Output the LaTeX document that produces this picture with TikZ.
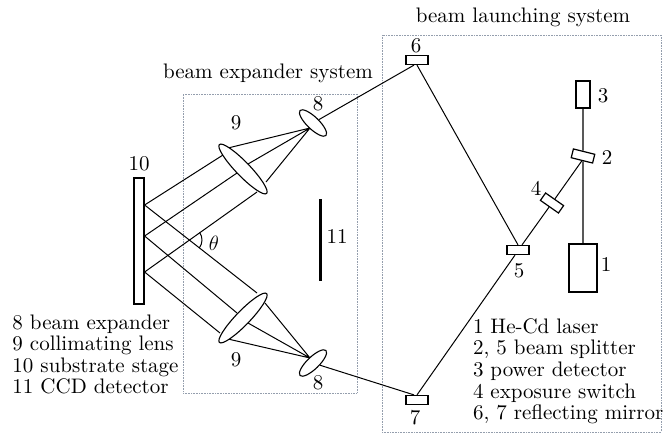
\documentclass[tikz,border=0pt]{standalone}
\usepackage{fontspec}
\setmainfont{lmroman10-regular.otf}
\usepackage{tikz}
\usetikzlibrary{positioning,calc,shapes.geometric}
\definecolor{framegray}{rgb}{0.58,0.62,0.68}

\begin{document}
\begin{tikzpicture}[x=1pt, y=-1pt, line width=1pt,
  every node/.append style={font=\fontsize{21}{21.6}\selectfont, inner sep=0pt},
  mirrorbox/.style={draw, fill=white, line width=1.2pt, minimum width=22pt, minimum height=9pt},
  devbox/.style={draw, fill=white, line width=1.2pt},
  lensbig/.style={draw, ellipse, fill=white, line width=1.1pt, minimum width=68pt, minimum height=14pt},
  lenssmall/.style={draw, ellipse, fill=white, line width=1.1pt, minimum width=36pt, minimum height=12pt},
  framebox/.style={draw=framegray, densely dotted, line width=0.6pt},
  legend/.style={align=left, anchor=north west},
]
\useasboundingbox (0,0) rectangle (663,433);
% frames
\node[framebox, minimum width=174pt, minimum height=299pt] (expander) at (270,243.5) {};
\node[framebox, minimum width=279pt, minimum height=397pt] (launching) at (521.5,233.5) {};
\node (expandertitle) at (268,73) {beam expander system};
\node (launchingtitle) at (523,17) {beam launching system};
% laser path
\node[devbox, minimum width=28pt, minimum height=48pt] (laser) at (583,268) {};
\node[devbox, minimum width=14pt, minimum height=27pt] (detector) at (583,94.5) {};
\node[mirrorbox, rotate=-14] (split2) at (583,156) {};
\node[mirrorbox, rotate=-35] (switch) at (552,203) {};
\node[mirrorbox] (split5) at (518,250) {};
\node[mirrorbox] (mirror6) at (417,60) {};
\node[mirrorbox] (mirror7) at (417,400) {};
\draw[line width=1.3pt] (laser.north) -- (split2);
\draw[line width=1.3pt] (split2) -- (detector.south);
\draw (split2.south) -- (switch);
\draw (switch) -- ([xshift=4pt]split5.north);
\draw (mirror6.south) -- (split5.north);
\draw ([xshift=-3pt]split5.south) -- (mirror7.north);
% substrate and lens points
\node[devbox, minimum width=10pt, minimum height=126pt] (stage) at (139,241) {};
\coordinate (sa) at (stage.east |- 0,205);
\coordinate (sb) at (stage.east |- 0,236);
\coordinate (sc) at (stage.east |- 0,272);
\coordinate (fa) at (310,128);
\coordinate (fb) at (310,358);
\draw (sa) -- (223,155) (sb) -- (237,173) (sc) -- (257,192);
\draw (sa) -- (257,293) (sb) -- (237,313) (sc) -- (220,333);
\draw (228,148) -- (fa) (248,164) -- (fa) (266,182) -- (fa);
\draw (265,303) -- (fb) (248,323) -- (fb) (228,339) -- (fb);
\node[lensbig, rotate=-46] (lens9a) at (243,169) {};
\node[lensbig, rotate=46] (lens9b) at (243,318) {};
\node[lenssmall, rotate=-44] (lens8a) at (313,123) {};
\node[lenssmall, rotate=44] (lens8b) at (313,363) {};
\draw (lens8a) -- ([xshift=-3pt]mirror6.south);
\draw (lens8b) -- ([xshift=-3pt]mirror7.north);
\draw (189+13*cos 35,240-13*sin 35) arc[start angle=-35, end angle=38, radius=13];
\draw[line width=3pt] (320.5,199) -- (320.5,281);
% numbers
\node (n1) at (606,265) {1};
\node (n2) at (607,158) {2};
\node (n3) at (603,96) {3};
\node (n4) at (536,188) {4};
\node (n5) at (519,271) {5};
\node (n6) at (416,46) {6};
\node (n7) at (415,418) {7};
\node (n8a) at (318,104) {8};
\node (n8b) at (318,383) {8};
\node (n9a) at (236,123) {9};
\node (n9b) at (236,360) {9};
\node (n10) at (139,164) {10};
\node (n11) at (337,237) {11};
\node (ntheta) at (214,243) {$\theta$};
% legends
\node[legend] (legendleft) at (12,314) {8 beam expander\\9 collimating lens\\10 substrate stage\\11 CCD detector};
\node[legend] (legendright) at (472.5,318) {1 He-Cd laser\\2, 5 beam splitter\\3 power detector\\4 exposure switch\\6, 7 reflecting mirror};
\end{tikzpicture}
\end{document}
